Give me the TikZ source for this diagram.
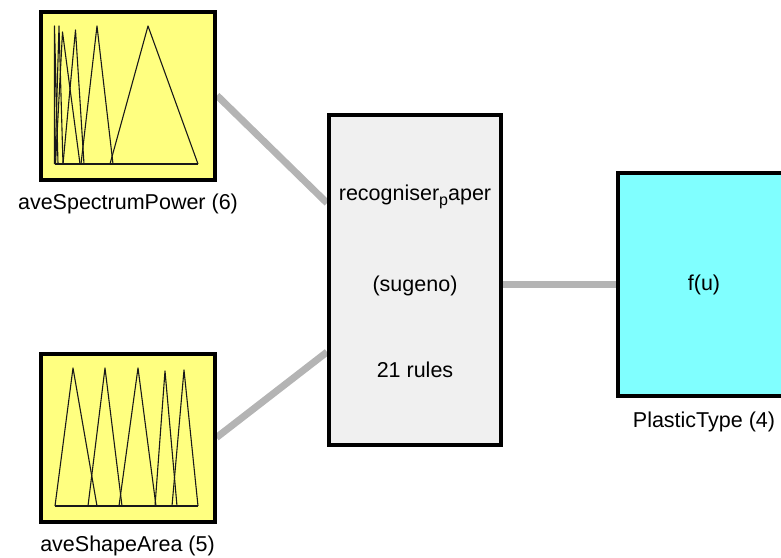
\documentclass[tikz,border=0pt]{standalone}
\usepackage{fontspec}
\setmainfont{Liberation Sans}
\usetikzlibrary{positioning,backgrounds}
\definecolor{mfyellow}{HTML}{FFFF80}
\definecolor{outcyan}{HTML}{80FFFF}
\definecolor{fisgray}{HTML}{F0F0F0}
\definecolor{linkgray}{HTML}{B4B4B4}
\tikzset{
  boxtext/.style={font=\fontsize{21.5}{26}\selectfont, inner sep=0pt},
  varbox/.style={draw=black, line width=4pt, fill=mfyellow, minimum width=174pt, minimum height=168pt, inner sep=0pt},
  fisbox/.style={draw=black, line width=4pt, fill=fisgray, minimum width=172pt, minimum height=330pt, inner sep=0pt},
  outbox/.style={draw=black, line width=4pt, fill=outcyan, minimum width=172pt, minimum height=223pt, inner sep=0pt},
  link/.style={draw=linkgray, line width=7pt},
  mfline/.style={draw=black!90, line width=1.1pt, line join=round}
}
\begin{document}
\begin{tikzpicture}[x=1pt,y=-1pt]
\useasboundingbox (0,0) rectangle (781,557);

\node[varbox] (spec) at (128,95.5) {};
\node[varbox] (shape) at (127.5,437.5) {};
\node[fisbox] (fis) at (415,280) {};
\node[outbox] (out) at (704,284.5) {};

\node[boxtext, below=12pt of spec] (spec-lbl) {aveSpectrumPower (6)};
\node[boxtext, below=12pt of shape] (shape-lbl) {aveShapeArea (5)};
\node[boxtext, below=14pt of out] (out-lbl) {PlasticType (4)};

\node[boxtext, anchor=base] (fis-name) at ([yshift=80pt]fis.center) {recogniser\raisebox{-5pt}{\fontsize{16}{16}\selectfont p}aper};
\node[boxtext, anchor=base] (fis-type) at ([yshift=-11pt]fis.center) {(sugeno)};
\node[boxtext, anchor=base] (fis-rules) at ([yshift=-97pt]fis.center) {21 rules};
\node[boxtext, anchor=base] (out-fn) at ([yshift=-5.5pt]out.center) {f(u)};

% membership functions, input 1
\draw[mfline] (55,164) -- (198,164);
\draw[mfline] (54.5,164) -- (54.5,26) -- (58,164);
\draw[mfline] (55,164) -- (59,26) -- (63,164);
\draw[mfline] (55.5,164) -- (62.5,32) -- (80,164);
\draw[mfline] (63,164) -- (75.5,30) -- (84,164);
\draw[mfline] (81,164) -- (97,26) -- (113,164);
\draw[mfline] (110,164) -- (148,26) -- (198,164);

% membership functions, input 2
\draw[mfline] (55,506) -- (198,506);
\draw[mfline] (55,506) -- (73,368) -- (97,506);
\draw[mfline] (88,506) -- (105,368) -- (122,506);
\draw[mfline] (119,506) -- (138,368) -- (156,506);
\draw[mfline] (155,506) -- (165,371) -- (177,506);
\draw[mfline] (172,506) -- (184,370) -- (198,506);

\begin{scope}[on background layer]
\draw[link] (spec.east) -- ([yshift=77pt]fis.west);
\draw[link] (shape.east) -- ([yshift=-72pt]fis.west);
\draw[link] (fis.east |- out.west) -- (out.west);
\end{scope}

\end{tikzpicture}
\end{document}
